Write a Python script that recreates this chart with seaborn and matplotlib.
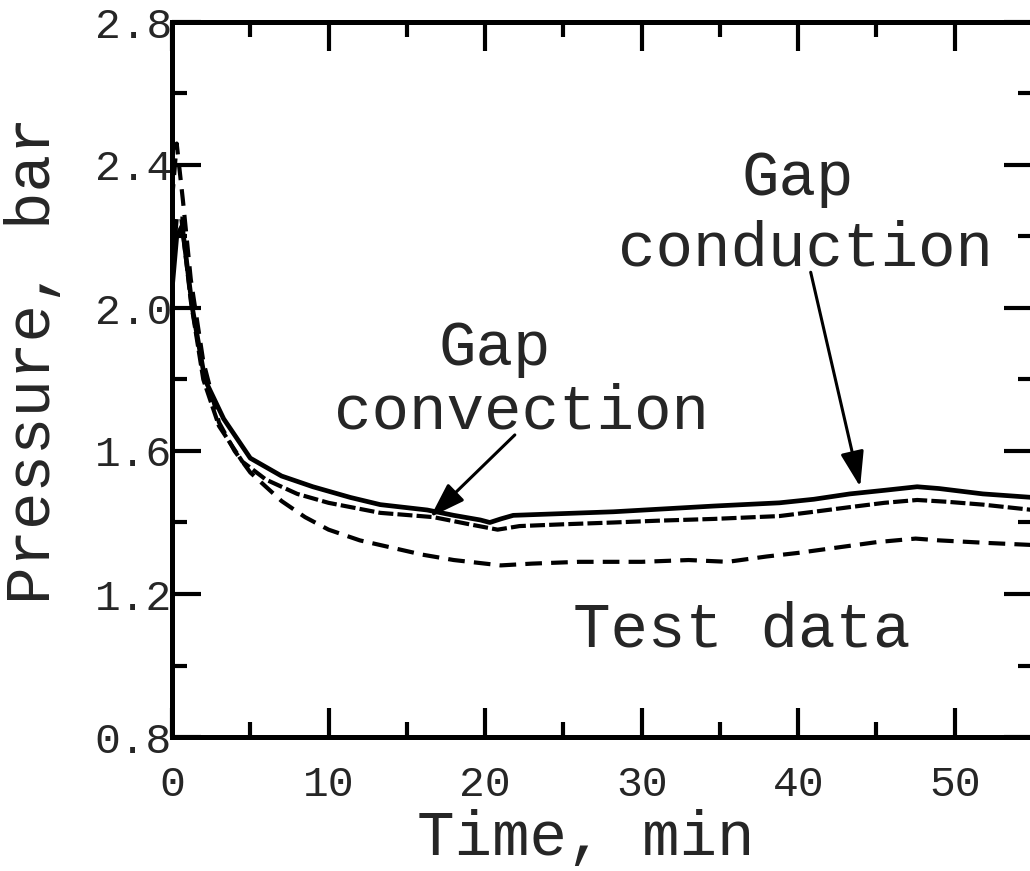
import matplotlib
matplotlib.use("Agg")
import matplotlib.pyplot as plt
import seaborn as sns
import pandas as pd
from matplotlib.ticker import MultipleLocator

# ---- data ----
cond_time = [0, 0.3, 0.65, 1.3, 2.1, 3.3, 5, 7, 9, 11.4, 13.3, 16.3, 18, 19.7, 20.3, 21,
             21.8, 25, 28.2, 31, 34.6, 38.8, 41, 43.3, 45.5, 47.6, 49, 51.8, 55]
cond_p = [2.05, 2.2, 2.23, 2.0, 1.80, 1.69, 1.58, 1.53, 1.50, 1.47, 1.45, 1.435, 1.42, 1.407,
          1.40, 1.41, 1.42, 1.425, 1.43, 1.437, 1.446, 1.455, 1.465, 1.48, 1.49, 1.50, 1.495,
          1.48, 1.47]

conv_time = [0, 0.3, 0.6, 1.2, 2, 3, 4.5, 6, 8, 10, 13.3, 16.7, 19, 20.8, 22.2, 25, 28.2,
             31, 34.6, 38.8, 41, 43.3, 45.5, 47.6, 49.5, 51.8, 55]
conv_p = [2.1, 2.25, 2.25, 2.02, 1.80, 1.67, 1.57, 1.52, 1.48, 1.455, 1.427, 1.415, 1.395,
          1.38, 1.39, 1.395, 1.40, 1.405, 1.41, 1.418, 1.43, 1.443, 1.455, 1.463, 1.458,
          1.45, 1.435]

test_time = [0, 0.3, 0.7, 1.2, 2, 3, 4, 5, 6, 7, 8.5, 10, 12, 14, 16, 18, 20, 21, 23, 26,
             30, 33, 35.5, 38, 40, 42.5, 45, 47.5, 49, 52, 55]
test_p = [2.30, 2.46, 2.30, 2.08, 1.85, 1.68, 1.60, 1.54, 1.50, 1.46, 1.415, 1.38, 1.35,
          1.33, 1.31, 1.295, 1.285, 1.28, 1.285, 1.29, 1.29, 1.295, 1.29, 1.305, 1.315,
          1.33, 1.345, 1.355, 1.35, 1.343, 1.337]

x_ticks = [0, 10, 20, 30, 40, 50]
y_ticks = [0.8, 1.2, 1.6, 2.0, 2.4, 2.8]
x_label = "Time, min"
y_label = "Pressure, bar"

sns.set_theme(style="ticks")
FONT = ["Liberation Mono", "DejaVu Sans Mono"]
plt.rcParams["font.family"] = FONT

fig = plt.figure(figsize=(10.3, 8.71), dpi=100)
ax = fig.add_axes([172 / 1030, 1 - 737 / 871, (1033 - 172) / 1030, (737 - 22) / 871])

df_c = pd.DataFrame({"t": cond_time, "p": cond_p})
df_v = pd.DataFrame({"t": conv_time, "p": conv_p})
df_t = pd.DataFrame({"t": test_time, "p": test_p})

sns.lineplot(data=df_t, x="t", y="p", ax=ax, color="black", lw=3.0, sort=False)
sns.lineplot(data=df_v, x="t", y="p", ax=ax, color="black", lw=3.0, sort=False)
sns.lineplot(data=df_c, x="t", y="p", ax=ax, color="black", lw=3.4, sort=False)
lines = ax.get_lines()
lines[0].set_dashes([4.0, 2.2])
lines[1].set_dashes([3.6, 1.0])

ax.set_xlim(0, 55)
ax.set_ylim(0.8, 2.8)
ax.set_xticks(x_ticks)
ax.set_yticks(y_ticks)
ax.set_xticklabels([str(v) for v in x_ticks])
ax.set_yticklabels([f"{v:.1f}" for v in y_ticks])
ax.xaxis.set_minor_locator(MultipleLocator(5))
ax.yaxis.set_minor_locator(MultipleLocator(0.2))

for s in ax.spines.values():
    s.set_linewidth(3.6)
    s.set_color("black")
    s.set_visible(True)

ax.tick_params(which="both", direction="in", top=True, right=True, color="black",
               width=3.0)
ax.tick_params(which="major", length=21)
ax.tick_params(which="minor", length=11)
ax.tick_params(axis="x", which="major", labelsize=31, pad=20)
ax.tick_params(axis="y", which="major", labelsize=31, pad=0)

ax.set_xlabel(x_label, fontsize=45)
ax.set_ylabel(y_label, fontsize=45)
ax.xaxis.set_label_coords(0.48, -0.101)
ax.yaxis.set_label_coords(-0.127, 0.527)

# annotations
ax.text(40.0, 2.316, "Gap", fontsize=45, ha="center", va="baseline")
ax.text(40.45, 2.12, "conduction", fontsize=45, ha="center", va="baseline")
ax.text(20.6, 1.84, "Gap", fontsize=45, ha="center", va="baseline")
ax.text(22.3, 1.664, "convection", fontsize=45, ha="center", va="baseline")
ax.text(36.4, 1.052, "Test data", fontsize=45, ha="center", va="baseline")

arrow = dict(arrowstyle="-|>,head_length=1.8,head_width=0.6", color="black", lw=2.2,
             shrinkA=0, shrinkB=0)
ax.annotate("", xy=(43.96, 1.50), xytext=(40.8, 2.10), arrowprops=arrow)
ax.annotate("", xy=(16.5, 1.415), xytext=(21.9, 1.645), arrowprops=arrow)

fig.savefig("out.png", dpi=100)
